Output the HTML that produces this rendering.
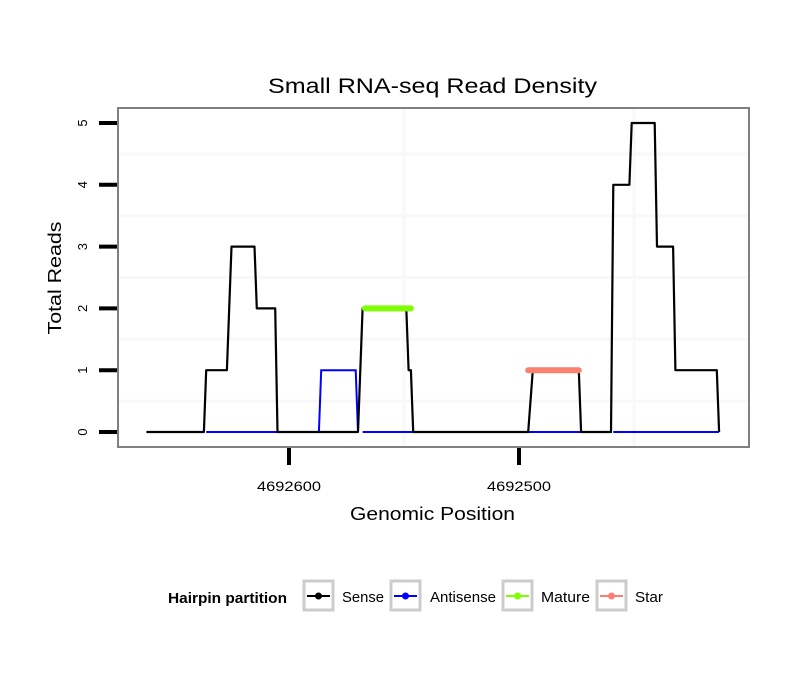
<!DOCTYPE html>
<html><head><meta charset="utf-8"><style>
body{margin:0;background:#fff}
svg{display:block;font-family:"Liberation Sans",sans-serif}
</style></head><body>
<svg id="chart" width="810" height="690">
<g id="grid"></g>
<rect x="118" y="108" width="631" height="339" fill="none" stroke="#808080" stroke-width="2"/>
<g id="marks"></g>
<g id="axes"></g>
<text x="268" y="93" font-size="21" textLength="329" lengthAdjust="spacingAndGlyphs">Small RNA-seq Read Density</text>
<text x="350" y="520" font-size="18" textLength="165" lengthAdjust="spacingAndGlyphs">Genomic Position</text>
<text transform="translate(61,278) rotate(-90)" font-size="18" text-anchor="middle" textLength="113" lengthAdjust="spacingAndGlyphs">Total Reads</text>
<g>
<text x="168" y="603" font-size="15" font-weight="bold" textLength="119" lengthAdjust="spacingAndGlyphs">Hairpin partition</text>
<g><rect x="304" y="581" width="29" height="29" fill="#fff" stroke="#ccc" stroke-width="3"/><line x1="307" y1="596" x2="330" y2="596" stroke="#000" stroke-width="2"/><circle cx="318.5" cy="596" r="3.5" fill="#000"/><text x="342" y="602" font-size="15" textLength="42" lengthAdjust="spacingAndGlyphs">Sense</text></g>
<g><rect x="391" y="581" width="29" height="29" fill="#fff" stroke="#ccc" stroke-width="3"/><line x1="394" y1="596" x2="417" y2="596" stroke="#00f" stroke-width="2"/><circle cx="405.5" cy="596" r="3.5" fill="#00f"/><text x="430" y="602" font-size="15" textLength="66" lengthAdjust="spacingAndGlyphs">Antisense</text></g>
<g><rect x="503" y="581" width="29" height="29" fill="#fff" stroke="#ccc" stroke-width="3"/><line x1="506" y1="596" x2="529" y2="596" stroke="#7fff00" stroke-width="2"/><circle cx="517.5" cy="596" r="3.5" fill="#7fff00"/><text x="541" y="602" font-size="15" textLength="49" lengthAdjust="spacingAndGlyphs">Mature</text></g>
<g><rect x="597" y="581" width="29" height="29" fill="#fff" stroke="#ccc" stroke-width="3"/><line x1="600" y1="596" x2="623" y2="596" stroke="#fa8072" stroke-width="2"/><circle cx="611.5" cy="596" r="3.5" fill="#fa8072"/><text x="635" y="602" font-size="15" textLength="28" lengthAdjust="spacingAndGlyphs">Star</text></g>
</g>
</svg>
<script>
const senseX=[4692662,4692637,4692636,4692627,4692625,4692615,4692614,4692606,4692605,4692570,4692568,4692549,4692548,4692547,4692546,4692496,4692494,4692474,4692473,4692460,4692459,4692452,4692451,4692441,4692440,4692433,4692432,4692414,4692413];
const senseY=[0,0,1,1,3,3,2,2,0,0,2,2,1,1,0,0,1,1,0,0,4,4,5,5,3,3,1,1,0];
const antiSegX=[[4692636,4692605],[4692587,4692586,4692571,4692570],[4692568,4692546],[4692496,4692473],[4692459,4692413]];
const antiSegY=[[0,0],[0,1,1,0],[0,0],[0,0],[0,0]];
const matureX=[4692567,4692547];
const matureY=[2,2];
const starX=[4692496,4692474];
const starY=[1,1];
const yTicks=[0,1,2,3,4,5];
const xTicks=[4692600,4692500];
const xGrid=[4692550,4692450];
const yGrid=[0.5,1.5,2.5,3.5,4.5];

const xs=p=>289+(4692600-p)*2.3;
const ys=v=>432-v*61.8;
const NS='http://www.w3.org/2000/svg';
function mk(tag,attrs,parent){const e=document.createElementNS(NS,tag);for(const k in attrs)e.setAttribute(k,attrs[k]);parent.appendChild(e);return e;}
const grid=document.getElementById('grid'),marks=document.getElementById('marks'),axes=document.getElementById('axes');
xGrid.forEach(g=>{const l=mk('line',{x1:xs(g),x2:xs(g),y1:109,y2:446,stroke:'#f8f8f8','stroke-width':3},grid);

});
yGrid.forEach(g=>{const l=mk('line',{x1:119,x2:748,y1:ys(g),y2:ys(g),stroke:'#f8f8f8','stroke-width':3},grid);

});
const pts=(X,Y)=>X.map((x,i)=>xs(x)+','+ys(Y[i])).join(' ');
antiSegX.forEach((sx,i)=>{const p=mk('polyline',{points:pts(sx,antiSegY[i]),fill:'none',stroke:'#00f','stroke-width':2},marks);

});
const s=mk('polyline',{points:pts(senseX,senseY),fill:'none',stroke:'#000','stroke-width':2.2,'stroke-linejoin':'round'},marks);


const m=mk('polyline',{points:pts(matureX,matureY),fill:'none',stroke:'#7fff00','stroke-width':6,'stroke-linecap':'round'},marks);


const st=mk('polyline',{points:pts(starX,starY),fill:'none',stroke:'#fa8072','stroke-width':6,'stroke-linecap':'round'},marks);


yTicks.forEach(t=>{const l=mk('line',{x1:99,x2:117,y1:ys(t),y2:ys(t),stroke:'#000','stroke-width':4},axes);


const tx=mk('text',{transform:`translate(87,${ys(t)}) rotate(-90)`,'font-size':13,'text-anchor':'middle'},axes);tx.textContent=t;

});
xTicks.forEach(t=>{const l=mk('line',{x1:xs(t),x2:xs(t),y1:448,y2:465,stroke:'#000','stroke-width':4},axes);


const tx=mk('text',{x:xs(t),y:491,'font-size':14,'text-anchor':'middle',textLength:64,lengthAdjust:'spacingAndGlyphs'},axes);tx.textContent=t;

});
</script>
</body></html>
